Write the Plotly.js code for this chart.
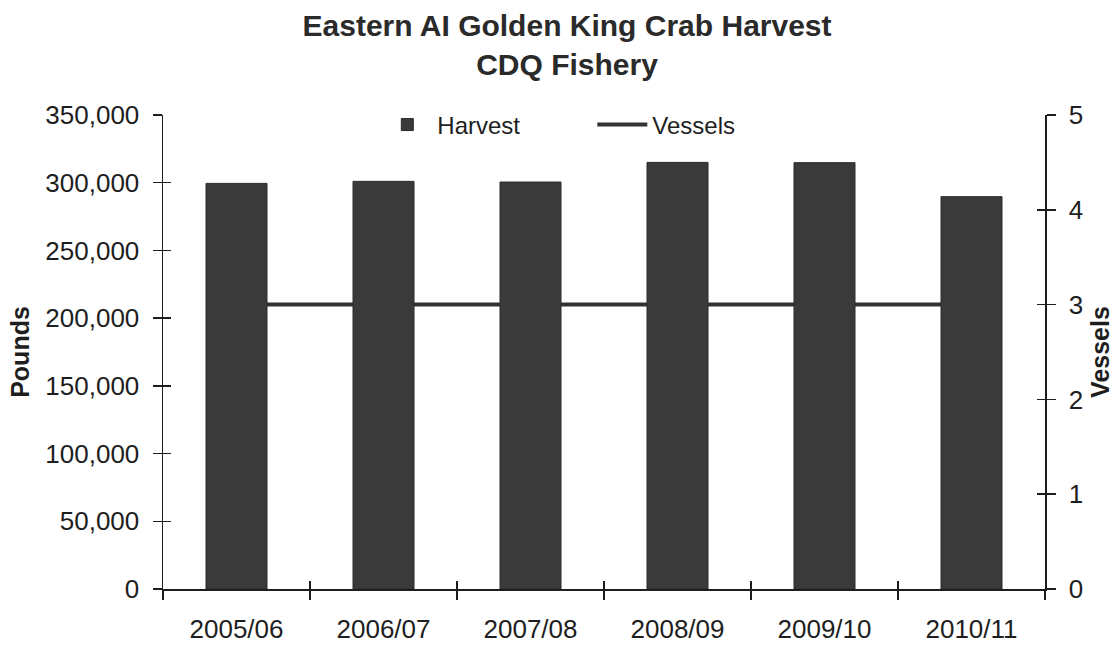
<!DOCTYPE html>
<html>
<head>
<meta charset="utf-8">
<script src="https://cdn.plot.ly/plotly-3.0.1.min.js"></script>
<style>html,body{margin:0;padding:0;background:#fff;}#chart{width:1114px;height:648px;}</style>
</head>
<body>
<div id="chart"></div>
<script>
var seasons = ['2005/06', '2006/07', '2007/08', '2008/09', '2009/10', '2010/11'];
var harvestPounds = [299500, 301000, 300500, 315000, 314800, 289700];
var vessels = [3, 3, 3, 3, 3, 3];

var ink = '#1e1e1e';
var barColor = '#3a3a3a';
var FONT = 'Liberation Sans, Arial, Helvetica, sans-serif';

var traces = [
  {
    type: 'scatter', mode: 'lines', name: 'Vessels',
    x: seasons, y: vessels, xaxis: 'x', yaxis: 'y',
    line: {color: '#333333', width: 4}, hoverinfo: 'x+y'
  },
  {
    type: 'bar', name: 'Harvest',
    x: seasons, y: harvestPounds, xaxis: 'x', yaxis: 'y2',
    marker: {color: barColor, line: {color: '#2a2a2a', width: 1}}
  },
  {type: 'scatter', x: [], y: [], xaxis: 'x2', yaxis: 'y3', showlegend: false, hoverinfo: 'skip'},
  {type: 'scatter', x: [], y: [], xaxis: 'x2', yaxis: 'y4', showlegend: false, hoverinfo: 'skip'}
];

var layout = {
  width: 1114, height: 648,
  margin: {l: 163, r: 69, t: 115, b: 59, autoexpand: false},
  paper_bgcolor: '#ffffff', plot_bgcolor: '#ffffff',
  font: {family: FONT, color: ink, size: 26},
  title: {
    text: '<b>Eastern AI Golden King Crab Harvest<br>CDQ Fishery</b>',
    font: {family: FONT, size: 30, color: '#2a2a2a'},
    x: 0.509, xanchor: 'center', xref: 'container',
    y: 0.944, yanchor: 'top', yref: 'container'
  },
  showlegend: true,
  legend: {
    orientation: 'h', x: 0.243, xanchor: 'left', y: 0.979, yanchor: 'middle',
    font: {family: FONT, size: 24, color: ink},
    bgcolor: 'rgba(0,0,0,0)', traceorder: 'reversed',
    itemwidth: 50, entrywidth: 150, entrywidthmode: 'pixels'
  },
  bargap: 0.585,
  xaxis: {
    type: 'category', categoryarray: seasons, categoryorder: 'array',
    range: [-0.5, 5.5], fixedrange: true,
    showline: true, linecolor: ink, linewidth: 1.5,
    ticks: 'outside', ticklen: 9, tickwidth: 1.5, tickcolor: ink, tickson: 'boundaries',
    showgrid: false, zeroline: false,
    tickfont: {family: FONT, size: 26, color: ink},
    ticklabelstandoff: 16
  },
  xaxis2: {
    overlaying: 'x', type: 'category', categoryarray: seasons, categoryorder: 'array',
    range: [-0.5, 5.5], showline: false, showgrid: false, zeroline: false,
    ticks: 'inside', ticklen: 8, tickwidth: 1.5, tickcolor: ink, tickson: 'boundaries',
    showticklabels: false
  },
  yaxis: {
    side: 'right', range: [0, 5], dtick: 1, fixedrange: true,
    showline: true, linecolor: ink, linewidth: 1.5,
    ticks: 'outside', ticklen: 9, tickwidth: 1.5, tickcolor: ink,
    showgrid: false, zeroline: false,
    tickfont: {family: FONT, size: 26, color: ink},
    ticklabelstandoff: 8,
    title: {text: '<b>Vessels</b>', font: {family: FONT, size: 25, color: ink}, standoff: 12}
  },
  yaxis2: {
    overlaying: 'y', side: 'left', range: [0, 350000], dtick: 50000, fixedrange: true,
    showline: true, linecolor: ink, linewidth: 1.5,
    ticks: 'outside', ticklen: 9, tickwidth: 1.5, tickcolor: ink,
    showgrid: false, zeroline: false, tickformat: ',d',
    tickfont: {family: FONT, size: 26, color: ink},
    ticklabelstandoff: 8,
    title: {text: '<b>Pounds</b>', font: {family: FONT, size: 25, color: ink}, standoff: 8}
  },
  yaxis3: {
    overlaying: 'y', side: 'left', range: [0, 350000], dtick: 50000,
    showline: false, showgrid: false, zeroline: false,
    ticks: 'inside', ticklen: 8, tickwidth: 1.5, tickcolor: ink, showticklabels: false
  },
  yaxis4: {
    overlaying: 'y', side: 'right', range: [0, 5], dtick: 1,
    showline: false, showgrid: false, zeroline: false,
    ticks: 'inside', ticklen: 8, tickwidth: 1.5, tickcolor: ink, showticklabels: false
  }
};

Plotly.newPlot('chart', traces, layout, {displayModeBar: false, staticPlot: true});
</script>
</body>
</html>
